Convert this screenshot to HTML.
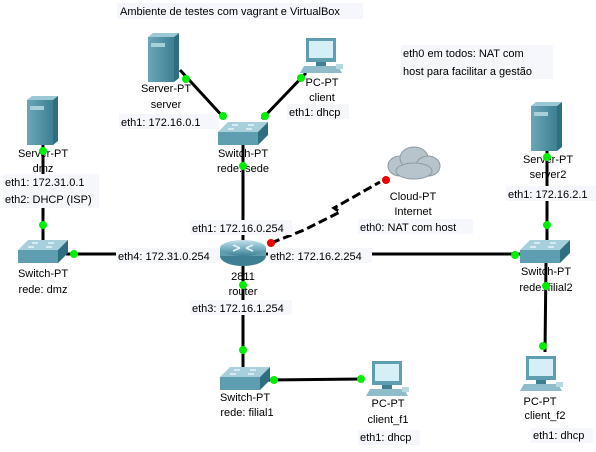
<!DOCTYPE html>
<html><head><meta charset="utf-8"><style>
html,body{margin:0;padding:0;background:#fff}
svg{display:block;font-family:"Liberation Sans","DejaVu Sans",sans-serif;font-size:11px}
</style></head><body>
<svg width="596" height="452" viewBox="0 0 596 452" xmlns="http://www.w3.org/2000/svg">
<defs>
<linearGradient id="srv" x1="0" x2="1"><stop offset="0" stop-color="#6aa6b8"/><stop offset="1" stop-color="#3f7f93"/></linearGradient>
<linearGradient id="rt" x1="0" y1="0" x2="0" y2="1"><stop offset="0" stop-color="#c4e0ea"/><stop offset="0.5" stop-color="#7db3c5"/><stop offset="1" stop-color="#3f7f93"/></linearGradient>
<g id="server"><rect x="0" y="4" width="26" height="45" fill="url(#srv)"/><polygon points="0,4 5,0 31,0 26,4" fill="#9cc7d4"/><polygon points="26,4 31,0 31,45 26,49" fill="#2f6e80"/><rect x="3" y="10" width="14" height="4" fill="#a9cfdb"/></g>
<g id="switch"><polygon points="0,10 10,0 50,0 40,10" fill="#a8cfdc"/><rect x="0" y="10" width="40" height="13" fill="#5f9db0"/><polygon points="40,10 50,0 50,13 40,23" fill="#2f6e80"/><g stroke="#e8f4f8" stroke-width="1.5"><line x1="14" y1="3" x2="20" y2="3"/><line x1="30" y1="3" x2="36" y2="3"/><line x1="10" y1="7" x2="16" y2="7"/><line x1="28" y1="7" x2="34" y2="7"/></g></g>
<g id="pc"><rect x="6" y="0" width="30" height="24" fill="#5f9db0"/><rect x="9" y="3" width="24" height="17" fill="#d6eef5"/><rect x="16" y="24" width="10" height="4" fill="#3f7f93"/><polygon points="4,28 38,28 42,35 0,35" fill="#8fbccb"/><rect x="36" y="26" width="7" height="5" fill="#b8d8e2"/></g>
</defs>
<g stroke="#000" stroke-width="3" fill="none">
<line x1="180" y1="70" x2="225" y2="119"/>
<line x1="306" y1="73" x2="262" y2="119"/>
<line x1="243" y1="145" x2="243" y2="242"/>
<line x1="66" y1="254" x2="222" y2="254"/>
<line x1="266" y1="254" x2="522" y2="254"/>
<line x1="243" y1="266" x2="243" y2="368"/>
<line x1="268" y1="380" x2="362" y2="379"/>
<line x1="43" y1="145" x2="43" y2="242"/>
<line x1="547" y1="150" x2="547" y2="241"/>
<line x1="546" y1="262" x2="545" y2="352"/>
<polyline points="271,243 304,230 340,212 334,208 380,182" stroke-dasharray="9,4"/>
</g>
<g fill="#f5f7fc">
<rect x="117" y="3" width="246" height="16"/>
<rect x="119" y="114" width="100" height="15"/>
<rect x="287" y="104" width="62" height="15"/>
<rect x="401" y="45" width="152" height="34"/>
<rect x="3" y="174" width="96" height="34"/>
<rect x="190" y="220" width="102" height="15"/>
<rect x="116" y="248" width="104" height="15"/>
<rect x="268" y="248" width="104" height="15"/>
<rect x="190" y="300" width="102" height="15"/>
<rect x="358" y="219" width="115" height="15"/>
<rect x="506" y="186" width="90" height="15"/>
<rect x="531" y="428" width="62" height="15"/>
<rect x="358" y="430" width="62" height="15"/>
</g>
<use href="#server" x="148" y="33"/>
<use href="#pc" x="300" y="38"/>
<use href="#switch" x="218" y="122"/>
<use href="#server" x="27" y="96"/>
<use href="#switch" x="18" y="240"/>
<use href="#server" x="531" y="102"/>
<use href="#switch" x="520" y="240"/>
<use href="#pc" x="520" y="356"/>
<use href="#switch" x="220" y="367"/>
<use href="#pc" x="366" y="361"/>
<g>
<ellipse cx="243" cy="256" rx="23" ry="10" fill="#3f7f93"/>
<rect x="220" y="248" width="46" height="8" fill="#5f9db0"/>
<ellipse cx="243" cy="248" rx="23" ry="8" fill="url(#rt)"/>
<g stroke="#e8f4f8" stroke-width="1.5"><line x1="233" y1="245" x2="240" y2="248"/><line x1="253" y1="245" x2="246" y2="248"/><line x1="233" y1="251" x2="240" y2="248"/><line x1="253" y1="251" x2="246" y2="248"/></g>
</g>
<g fill="#b8c4cc" stroke="#8c9aa4" stroke-width="1">
<ellipse cx="400" cy="166" rx="12" ry="10"/><ellipse cx="414" cy="158" rx="14" ry="11"/><ellipse cx="428" cy="166" rx="12" ry="10"/><ellipse cx="414" cy="171" rx="18" ry="8"/>
</g>
<g fill="#000">
<text x="120" y="15">Ambiente de testes com vagrant e VirtualBox</text>
<text x="166" y="92" text-anchor="middle">Server-PT</text>
<text x="166" y="108" text-anchor="middle">server</text>
<text x="121" y="126">eth1: 172.16.0.1</text>
<text x="322" y="86" text-anchor="middle">PC-PT</text>
<text x="322" y="101" text-anchor="middle">client</text>
<text x="289" y="116">eth1: dhcp</text>
<text x="243" y="157" text-anchor="middle">Switch-PT</text>
<text x="243" y="172" text-anchor="middle">rede: sede</text>
<text x="403" y="57">eth0 em todos: NAT com</text>
<text x="403" y="75">host para facilitar a gestão</text>
<text x="43" y="157" text-anchor="middle">Server-PT</text>
<text x="43" y="172" text-anchor="middle">dmz</text>
<text x="5" y="186">eth1: 172.31.0.1</text>
<text x="5" y="203">eth2: DHCP (ISP)</text>
<text x="43" y="277" text-anchor="middle">Switch-PT</text>
<text x="43" y="293" text-anchor="middle">rede: dmz</text>
<text x="192" y="232">eth1: 172.16.0.254</text>
<text x="118" y="260">eth4: 172.31.0.254</text>
<text x="270" y="260">eth2: 172.16.2.254</text>
<text x="243" y="280" text-anchor="middle">2811</text>
<text x="243" y="295" text-anchor="middle">router</text>
<text x="192" y="312">eth3: 172.16.1.254</text>
<text x="413" y="200" text-anchor="middle">Cloud-PT</text>
<text x="413" y="215" text-anchor="middle">Internet</text>
<text x="360" y="231">eth0: NAT com host</text>
<text x="548" y="163" text-anchor="middle">Server-PT</text>
<text x="548" y="178" text-anchor="middle">server2</text>
<text x="508" y="198">eth1: 172.16.2.1</text>
<text x="546" y="275" text-anchor="middle">Switch-PT</text>
<text x="546" y="291" text-anchor="middle">rede: filial2</text>
<text x="540" y="405" text-anchor="middle">PC-PT</text>
<text x="545" y="419" text-anchor="middle">client_f2</text>
<text x="533" y="439">eth1: dhcp</text>
<text x="245" y="401" text-anchor="middle">Switch-PT</text>
<text x="247" y="416" text-anchor="middle">rede: filial1</text>
<text x="388" y="407" text-anchor="middle">PC-PT</text>
<text x="388" y="423" text-anchor="middle">client_f1</text>
<text x="360" y="441">eth1: dhcp</text>
</g>
<g fill="#00ee00">
<circle cx="186" cy="79" r="4"/><circle cx="223" cy="116" r="4"/><circle cx="265" cy="116" r="4"/><circle cx="301" cy="78" r="4"/>
<circle cx="243" cy="166" r="4"/><circle cx="43" cy="151" r="4"/><circle cx="43" cy="225" r="4"/><circle cx="74" cy="254" r="4"/>
<circle cx="547" cy="157" r="4"/><circle cx="547" cy="225" r="4"/><circle cx="515" cy="255" r="4"/><circle cx="546" cy="286" r="4"/><circle cx="543" cy="346" r="4"/>
<circle cx="243" cy="285" r="4"/><circle cx="243" cy="350" r="4"/><circle cx="274" cy="380" r="4"/><circle cx="361" cy="379" r="4"/>
</g>
<circle cx="271" cy="243" r="4" fill="#ee0000"/>
<circle cx="386" cy="180" r="4" fill="#ee0000"/>
</svg>
</body></html>
